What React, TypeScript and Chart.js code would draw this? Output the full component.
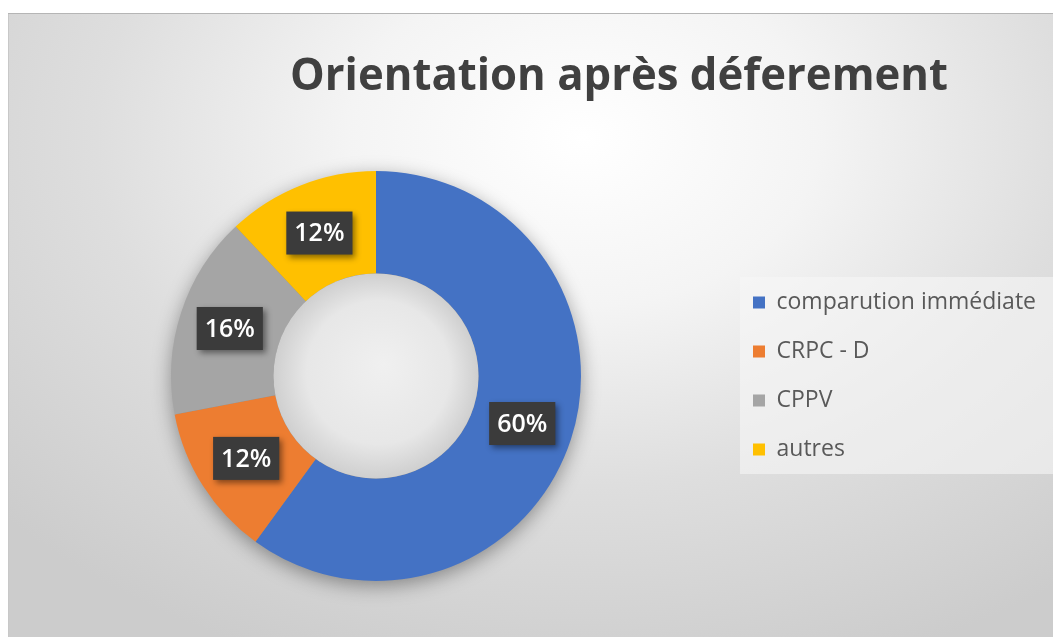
import React, { useEffect, useRef } from "react";
import { Chart, registerables } from "chart.js";

Chart.register(...registerables);

const TITLE = "Orientation après déferement";
const categories = ["comparution immédiate", "CRPC - D", "CPPV", "autres"];
const values = [60, 12, 16, 12];
const colors = ["#4472C4", "#ED7D31", "#A5A5A5", "#FFC000"];

export default function App() {
  const ref = useRef<HTMLCanvasElement>(null);

  useEffect(() => {
    document.documentElement.style.overflow = "hidden";
    const canvas = ref.current;
    if (!canvas) return;
    const total = values.reduce((a, b) => a + b, 0);

    const decor = {
      id: "decor",
      beforeDraw(chart: any) {
        const ctx = chart.ctx;
        const lg = chart.legend;
        if (lg) {
          const cy = (lg.top + lg.bottom) / 2;
          ctx.save();
          ctx.fillStyle = "rgba(246,246,246,0.6)";
          ctx.fillRect(lg.left + 13, cy - 99, lg.right - lg.left, 197);
          ctx.restore();
        }
        ctx.save();
        ctx.font = "700 44px 'Open Sans'";
        ctx.fillStyle = "#404040";
        ctx.textAlign = "center";
        ctx.textBaseline = "alphabetic";
        const w = ctx.measureText(TITLE).width;
        const target = 658;
        ctx.translate(611, 77);
        ctx.scale(target / w, 1);
        ctx.fillText(TITLE, 0, 0);
        ctx.restore();
      },
      beforeDatasetsDraw(chart: any) {
        const ctx = chart.ctx;
        const arc = chart.getDatasetMeta(0).data[0];
        if (!arc) return;
        const { x, y, outerRadius } = arc.getProps(["x", "y", "outerRadius"], true);
        ctx.save();
        ctx.shadowColor = "rgba(0,0,0,0.4)";
        ctx.shadowBlur = 20;
        ctx.shadowOffsetY = 5;
        ctx.beginPath();
        ctx.arc(x, y, outerRadius - 1, 0, Math.PI * 2);
        ctx.fillStyle = "#8a8a8a";
        ctx.fill();
        ctx.restore();
      },
      afterDatasetsDraw(chart: any) {
        const ctx = chart.ctx;
        const meta = chart.getDatasetMeta(0);
        const a0 = meta.data[0];
        if (!a0) return;
        const { x, y, innerRadius } = a0.getProps(["x", "y", "innerRadius"], true);
        ctx.save();
        const g = ctx.createRadialGradient(x + 8, y - 12, 0, x, y, innerRadius);
        g.addColorStop(0, "#f0f0f0");
        g.addColorStop(0.7, "#e7e7e7");
        g.addColorStop(1, "#cfcfcf");
        ctx.beginPath();
        ctx.arc(x, y, innerRadius, 0, Math.PI * 2);
        ctx.fillStyle = g;
        ctx.fill();
        ctx.restore();
        meta.data.forEach((arc: any, i: number) => {
          const p = arc.tooltipPosition(true);
          const txt = Math.round((values[i] / total) * 100) + "%";
          ctx.save();
          ctx.font = "600 25px 'Open Sans'";
          const tw = ctx.measureText(txt).width;
          const bw = tw + 16;
          const bh = 43;
          ctx.shadowColor = "rgba(0,0,0,0.45)";
          ctx.shadowBlur = 6;
          ctx.shadowOffsetX = 3;
          ctx.shadowOffsetY = 3;
          ctx.fillStyle = "#3b3b3b";
          ctx.fillRect(p.x - bw / 2, p.y - bh / 2, bw, bh);
          ctx.shadowColor = "transparent";
          ctx.fillStyle = "#ffffff";
          ctx.textAlign = "center";
          ctx.textBaseline = "middle";
          ctx.fillText(txt, p.x, p.y + 1);
          ctx.restore();
        });
      },
    };

    const chart = new Chart(canvas, {
      type: "doughnut",
      data: {
        labels: categories,
        datasets: [
          {
            data: values,
            backgroundColor: colors,
            borderWidth: 0,
          },
        ],
      },
      options: {
        animation: false,
        responsive: true,
        maintainAspectRatio: false,
        events: [],
        cutout: "50%",
        layout: { padding: { left: 17, right: 7, top: 158, bottom: 56 } },
        plugins: {
          title: { display: false, text: TITLE },
          tooltip: { enabled: false },
          legend: {
            display: true,
            position: "right",
            align: "center",
            labels: {
              boxWidth: 12,
              boxHeight: 12,
              padding: 26,
              color: "#595959",
              font: { family: "'Open Sans'", size: 23, weight: "normal" },
            },
          },
        },
      },
      plugins: [decor],
    });
    return () => chart.destroy();
  }, []);

  return (
    <div
      style={{
        position: "fixed",
        left: 8,
        top: 13,
        width: 1045,
        height: 624,
        background:
          "radial-gradient(ellipse 75% 90% at 55% 20%, #ffffff 0%, #f4f4f4 30%, #dedede 62%, #cccccc 100%)",
        boxShadow: "inset 0 1px 0 #b5b5b5, inset 1px 0 0 #c8c8c8",
      }}
    >
      <canvas ref={ref} />
    </div>
  );
}
